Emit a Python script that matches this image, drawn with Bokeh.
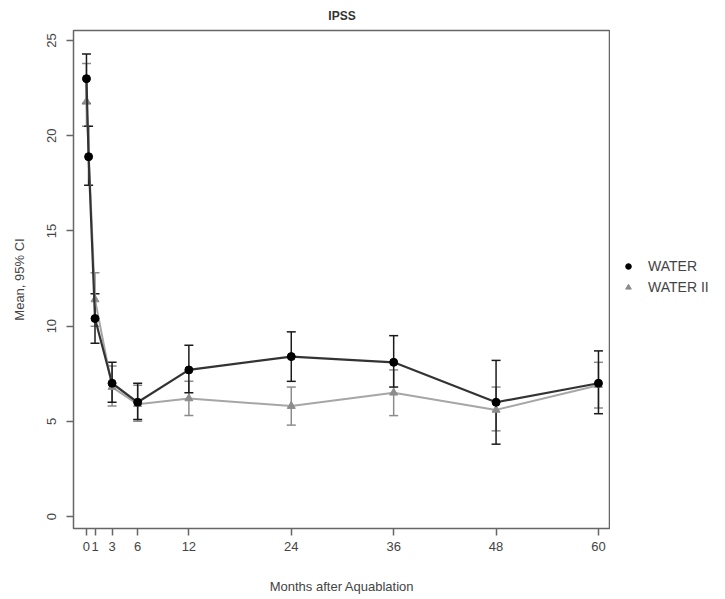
from bokeh.plotting import figure
from bokeh.layouts import row
from bokeh.models import (Range1d, FixedTicker, ColumnDataSource, Whisker, TeeHead,
                          Legend, LegendItem)
from bokeh.embed import file_html
from bokeh.resources import INLINE

# ---- data ----
water_months = [0, 0.25, 1, 3, 6, 12, 24, 36, 48, 60]
water_mean = [23.0, 18.9, 10.4, 7.0, 6.0, 7.7, 8.4, 8.1, 6.0, 7.0]
water_lower = [21.7, 17.4, 9.1, 6.0, 5.1, 6.5, 7.1, 6.8, 3.8, 5.4]
water_upper = [24.3, 20.5, 11.7, 8.1, 7.0, 9.0, 9.7, 9.5, 8.2, 8.7]

water2_months = [0, 1, 3, 6, 12, 24, 36, 48, 60]
water2_mean = [21.8, 11.4, 6.8, 5.9, 6.2, 5.8, 6.5, 5.6, 6.9]
water2_lower = [20.5, 10.0, 5.8, 5.0, 5.3, 4.8, 5.3, 4.5, 5.7]
water2_upper = [23.8, 12.8, 7.9, 6.9, 7.1, 6.8, 7.7, 6.8, 8.1]

x_ticks = [0, 1, 3, 6, 12, 24, 36, 48, 60]
y_ticks = [0, 5, 10, 15, 20, 25]
series_names = ["WATER", "WATER II"]

FONT = "Liberation Sans"
TXT = "#444444"

p = figure(frame_width=537, frame_height=498, output_backend="svg", toolbar_location=None,
           x_range=Range1d(-1.52, 61.41), y_range=Range1d(-0.63, 25.53),
           min_border_left=73, min_border_top=30, min_border_bottom=62,
           min_border_right=0)

p.title.text = "IPSS"
p.title.align = "center"
p.title.vertical_align = "top"
p.title.text_font = FONT
p.title.text_font_size = "12px"
p.title.text_font_style = "bold"
p.title.text_color = "#333333"
p.title.offset = 0
p.title.standoff = 12

p.xgrid.visible = False
p.ygrid.visible = False
p.outline_line_color = "#666666"
p.outline_line_width = 1.5
p.background_fill_color = "white"
p.border_fill_color = "white"

for ax in (p.xaxis[0], p.yaxis[0]):
    ax.axis_line_color = None
    ax.major_tick_line_color = "#666666"
    ax.major_tick_line_width = 1.5
    ax.major_tick_out = 7
    ax.major_tick_in = 0
    ax.minor_tick_line_color = None
    ax.major_label_text_font = FONT
    ax.major_label_text_font_size = "13px"
    ax.major_label_text_color = TXT
    ax.axis_label_text_font = FONT
    ax.axis_label_text_font_size = "13px"
    ax.axis_label_text_font_style = "normal"
    ax.axis_label_text_color = TXT

p.xaxis.ticker = FixedTicker(ticks=x_ticks)
p.xaxis.major_label_overrides = {t: str(t) for t in x_ticks}
p.xaxis.axis_label = "Months after Aquablation"
p.xaxis.major_label_standoff = 6
p.xaxis.axis_label_standoff = 25

p.yaxis.ticker = FixedTicker(ticks=y_ticks)
p.yaxis.major_label_orientation = "vertical"
p.yaxis.axis_label = "Mean, 95% CI"
p.yaxis.major_label_standoff = 10
p.yaxis.axis_label_standoff = 18

src1 = ColumnDataSource(dict(x=water_months, y=water_mean, lo=water_lower, hi=water_upper))
src2 = ColumnDataSource(dict(x=water2_months, y=water2_mean, lo=water2_lower, hi=water2_upper))

GRAY = "#a6a6a6"
DARK = "#333333"

# WATER II (gray)
p.line("x", "y", source=src2, line_color=GRAY, line_width=2)
w2 = Whisker(source=src2, base="x", lower="lo", upper="hi", line_color="#8c8c8c",
             line_width=1.5,
             upper_head=TeeHead(size=9, line_color="#8c8c8c", line_width=1.5),
             lower_head=TeeHead(size=9, line_color="#8c8c8c", line_width=1.5))
p.add_layout(w2)
p.scatter("x", "y", source=src2, marker="triangle", size=8,
          fill_color="#8c8c8c", line_color="#8c8c8c")

# WATER (black)
p.line("x", "y", source=src1, line_color=DARK, line_width=2.2)
w1 = Whisker(source=src1, base="x", lower="lo", upper="hi", line_color="#1a1a1a",
             line_width=1.5,
             upper_head=TeeHead(size=9, line_color="#1a1a1a", line_width=1.5),
             lower_head=TeeHead(size=9, line_color="#1a1a1a", line_width=1.5))
p.add_layout(w1)
p.scatter("x", "y", source=src1, marker="circle", size=8,
          fill_color="black", line_color="black")

# ---- legend in a narrow side figure (its glyph renderers sit outside its range) ----
q = figure(width=100, height=590, output_backend="svg", toolbar_location=None,
           x_range=Range1d(0, 1), y_range=Range1d(0, 1),
           min_border=0, outline_line_color=None)
q.axis.visible = False
q.xgrid.visible = False
q.ygrid.visible = False
lr1 = q.scatter(x=[-5], y=[-5], marker="circle", size=8, fill_color="black", line_color="black")
lr2 = q.scatter(x=[-5], y=[-5], marker="triangle", size=8, fill_color="#8c8c8c", line_color="#8c8c8c")
legend = Legend(items=[LegendItem(label=series_names[0], renderers=[lr1]),
                       LegendItem(label=series_names[1], renderers=[lr2])],
                location=(11, 227), border_line_color=None,
                background_fill_alpha=0,
                label_text_font=FONT, label_text_font_size="14px",
                label_text_color=TXT, glyph_width=14, glyph_height=14,
                label_standoff=13, spacing=5, padding=2, margin=0)
q.add_layout(legend)

layout = row(p, q, spacing=0)
open("out.html", "w").write(file_html(layout, INLINE))
